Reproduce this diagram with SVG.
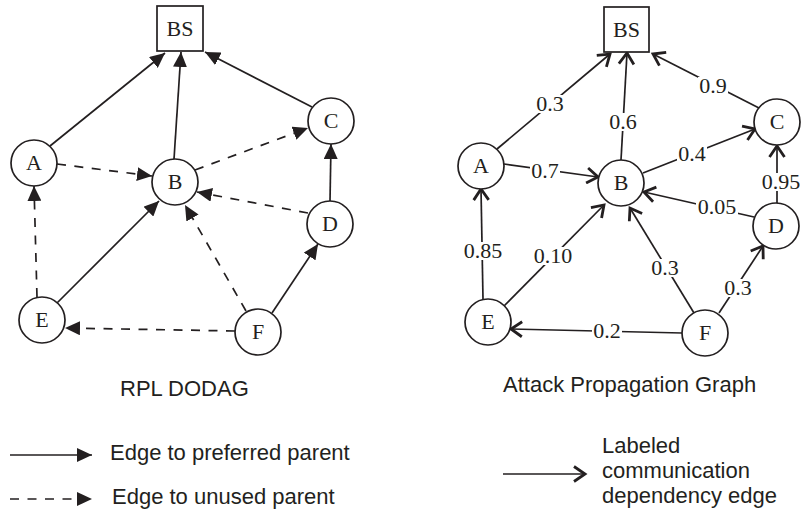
<svg xmlns="http://www.w3.org/2000/svg" width="802" height="513" viewBox="0 0 802 513">
<defs>
<style>
.edge{stroke:#231f20;stroke-width:1.7;fill:none}
.dash{stroke-dasharray:9,8.5}
.node{fill:#fff;stroke:#231f20;stroke-width:1.7}
.nl{font-family:"Liberation Serif",serif;font-size:22px;fill:#231f20;text-anchor:middle}
.bg{fill:#fff;stroke:none}
.cap{font-family:"Liberation Sans",Arial,sans-serif;font-size:22px;fill:#231f20}
.filled{marker-end:url(#tri)}
.open{marker-end:url(#vee)}
</style>
<marker id="tri" markerUnits="userSpaceOnUse" markerWidth="16" markerHeight="14" refX="15" refY="7" orient="auto">
<path d="M0,0 L15,7 L0,14 z" fill="#231f20"/>
</marker>
<marker id="vee" markerUnits="userSpaceOnUse" markerWidth="16" markerHeight="18" refX="13" refY="9" orient="auto">
<path d="M2,1.5 L13,9 L2,16.5" fill="none" stroke="#231f20" stroke-width="2.8"/>
</marker>
</defs>
<rect width="802" height="513" fill="#fff"/>

<g id="connectors">
<g id="left-edges">
<line class="edge filled" x1="50" y1="146" x2="165" y2="53"/>
<line class="edge filled" x1="174" y1="159" x2="181" y2="52"/>
<line class="edge filled" x1="312" y1="107" x2="205" y2="52"/>
<line class="edge dash filled" x1="57" y1="164" x2="152" y2="176"/>
<line class="edge dash filled" x1="195" y1="170" x2="308" y2="128"/>
<line class="edge dash filled" x1="308" y1="213" x2="197" y2="192"/>
<line class="edge filled" x1="330" y1="201" x2="331" y2="144"/>
<line class="edge dash filled" x1="37" y1="297" x2="34" y2="186"/>
<line class="edge filled" x1="57" y1="303" x2="159" y2="201"/>
<line class="edge dash filled" x1="246" y1="311" x2="185" y2="205"/>
<line class="edge filled" x1="272" y1="313" x2="318" y2="244"/>
<line class="edge dash filled" x1="235" y1="331" x2="65" y2="328"/>
</g>
<g id="right-edges">
<line class="edge open" x1="497" y1="149" x2="610" y2="54"/>
<line class="edge open" x1="621" y1="160" x2="627" y2="53"/>
<line class="edge open" x1="759" y1="108" x2="653" y2="54"/>
<line class="edge open" x1="504" y1="164" x2="598" y2="177"/>
<line class="edge open" x1="643" y1="173" x2="755" y2="129"/>
<line class="edge open" x1="777" y1="203" x2="777" y2="146"/>
<line class="edge open" x1="754" y1="217" x2="644" y2="192"/>
<line class="edge open" x1="483" y1="299" x2="481" y2="189"/>
<line class="edge open" x1="504" y1="306" x2="604" y2="205"/>
<line class="edge open" x1="694" y1="313" x2="630" y2="208"/>
<line class="edge open" x1="719" y1="313" x2="763" y2="246"/>
<line class="edge open" x1="682" y1="333" x2="511" y2="329"/>
</g>
<g id="edge-labels">
<rect class="bg" x="535" y="95" width="30" height="18"/><text class="nl" x="550" y="111">0.3</text>
<rect class="bg" x="608" y="113" width="30" height="18"/><text class="nl" x="623" y="129">0.6</text>
<rect class="bg" x="698" y="77" width="30" height="18"/><text class="nl" x="713" y="93">0.9</text>
<rect class="bg" x="530" y="162" width="30" height="18"/><text class="nl" x="545" y="178">0.7</text>
<rect class="bg" x="677" y="145" width="30" height="18"/><text class="nl" x="692" y="161">0.4</text>
<rect class="bg" x="760" y="173" width="42" height="18"/><text class="nl" x="781" y="189">0.95</text>
<rect class="bg" x="696" y="198" width="42" height="18"/><text class="nl" x="717" y="214">0.05</text>
<rect class="bg" x="462" y="242" width="42" height="18"/><text class="nl" x="483" y="258">0.85</text>
<rect class="bg" x="532" y="247" width="42" height="18"/><text class="nl" x="553" y="263">0.10</text>
<rect class="bg" x="650" y="259" width="30" height="18"/><text class="nl" x="665" y="275">0.3</text>
<rect class="bg" x="723" y="279" width="30" height="18"/><text class="nl" x="738" y="295">0.3</text>
<rect class="bg" x="592" y="322" width="30" height="18"/><text class="nl" x="607" y="338">0.2</text>
</g>
</g>

<g id="L-BS"><rect class="node" x="157" y="6" width="46" height="45"/><text class="nl" x="180" y="36">BS</text></g>
<g id="L-A"><circle class="node" cx="34" cy="163" r="23"/><text class="nl" x="34" y="170">A</text></g>
<g id="L-B"><circle class="node" cx="175" cy="182" r="23"/><text class="nl" x="175" y="189">B</text></g>
<g id="L-C"><circle class="node" cx="331" cy="121" r="23"/><text class="nl" x="331" y="128">C</text></g>
<g id="L-D"><circle class="node" cx="330" cy="224" r="23"/><text class="nl" x="330" y="231">D</text></g>
<g id="L-E"><circle class="node" cx="42" cy="320" r="23"/><text class="nl" x="42" y="327">E</text></g>
<g id="L-F"><circle class="node" cx="258" cy="332" r="23"/><text class="nl" x="258" y="339">F</text></g>

<g id="R-BS"><rect class="node" x="604" y="7" width="45" height="45"/><text class="nl" x="626.5" y="37">BS</text></g>
<g id="R-A"><circle class="node" cx="481" cy="166" r="23"/><text class="nl" x="481" y="173">A</text></g>
<g id="R-B"><circle class="node" cx="621" cy="183" r="23"/><text class="nl" x="621" y="190">B</text></g>
<g id="R-C"><circle class="node" cx="777" cy="122" r="23"/><text class="nl" x="777" y="129">C</text></g>
<g id="R-D"><circle class="node" cx="776" cy="226" r="23"/><text class="nl" x="776" y="233">D</text></g>
<g id="R-E"><circle class="node" cx="488" cy="322" r="23"/><text class="nl" x="488" y="329">E</text></g>
<g id="R-F"><circle class="node" cx="705" cy="333" r="23"/><text class="nl" x="705" y="340">F</text></g>

<g id="captions">
<text class="cap" x="120" y="396">RPL DODAG</text>
<text class="cap" x="503" y="392">Attack Propagation Graph</text>
</g>

<g id="legend">
<line class="edge filled" x1="10" y1="455" x2="92" y2="455"/>
<text class="cap" x="110" y="460">Edge to preferred parent</text>
<line class="edge dash filled" x1="10" y1="499" x2="92" y2="499"/>
<text class="cap" x="112" y="504">Edge to unused parent</text>
<line class="edge open" x1="503" y1="474" x2="585" y2="474"/>
<text class="cap" x="602" y="453">Labeled</text>
<text class="cap" x="602" y="478">communication</text>
<text class="cap" x="602" y="503">dependency edge</text>
</g>
</svg>
